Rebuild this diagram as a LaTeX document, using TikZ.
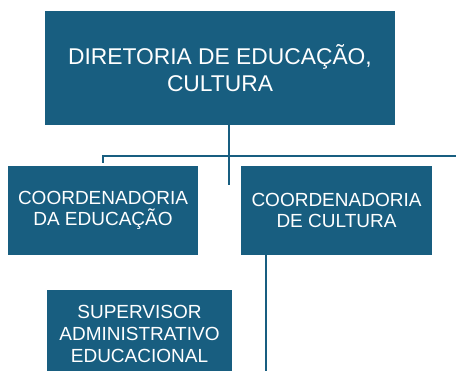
\documentclass[tikz,border=0pt]{standalone}
\usepackage{fontspec}
\setmainfont{Liberation Sans}
\definecolor{boxblue}{RGB}{24,94,128}
\begin{document}
\begin{tikzpicture}[x=1pt,y=-1pt,
  box/.style={fill=boxblue,draw=none,text=white,align=center,inner sep=0pt},
  bigbox/.style={box,minimum width=350pt,minimum height=114pt,font=\fontsize{22.8}{27}\selectfont},
  smallbox/.style={box,minimum width=190pt,minimum height=89pt,font=\fontsize{19}{21.7}\selectfont},
  link/.style={draw=boxblue,line width=2pt}]
\useasboundingbox (0,0) rectangle (456,371);
\clip (0,0) rectangle (456,371);
\node[bigbox] (dir) at (220,68) {DIRETORIA DE EDUCAÇÃO,\\CULTURA};
\node[smallbox] (edu) at (103,210.5) {COORDENADORIA\\DA EDUCAÇÃO};
\node[smallbox,minimum width=191pt] (cul) at (336.5,210.5) {COORDENADORIA\\DE CULTURA};
\node[smallbox,minimum width=185pt,minimum height=88pt] (sup) at (139.5,334) {SUPERVISOR\\ADMINISTRATIVO\\EDUCACIONAL};
\coordinate (stem) at (228.5,185);
\coordinate (barR) at (456,156);
\coordinate (culEnd) at (266,371);
\draw[link] ([yshift=3pt]dir.south -| stem) -- (stem);
\draw[link] (edu.north) ++(0,-3) -- (103,156) -- (barR);
\draw[link] ([yshift=2pt]cul.south -| culEnd) -- (culEnd);
\end{tikzpicture}
\end{document}
